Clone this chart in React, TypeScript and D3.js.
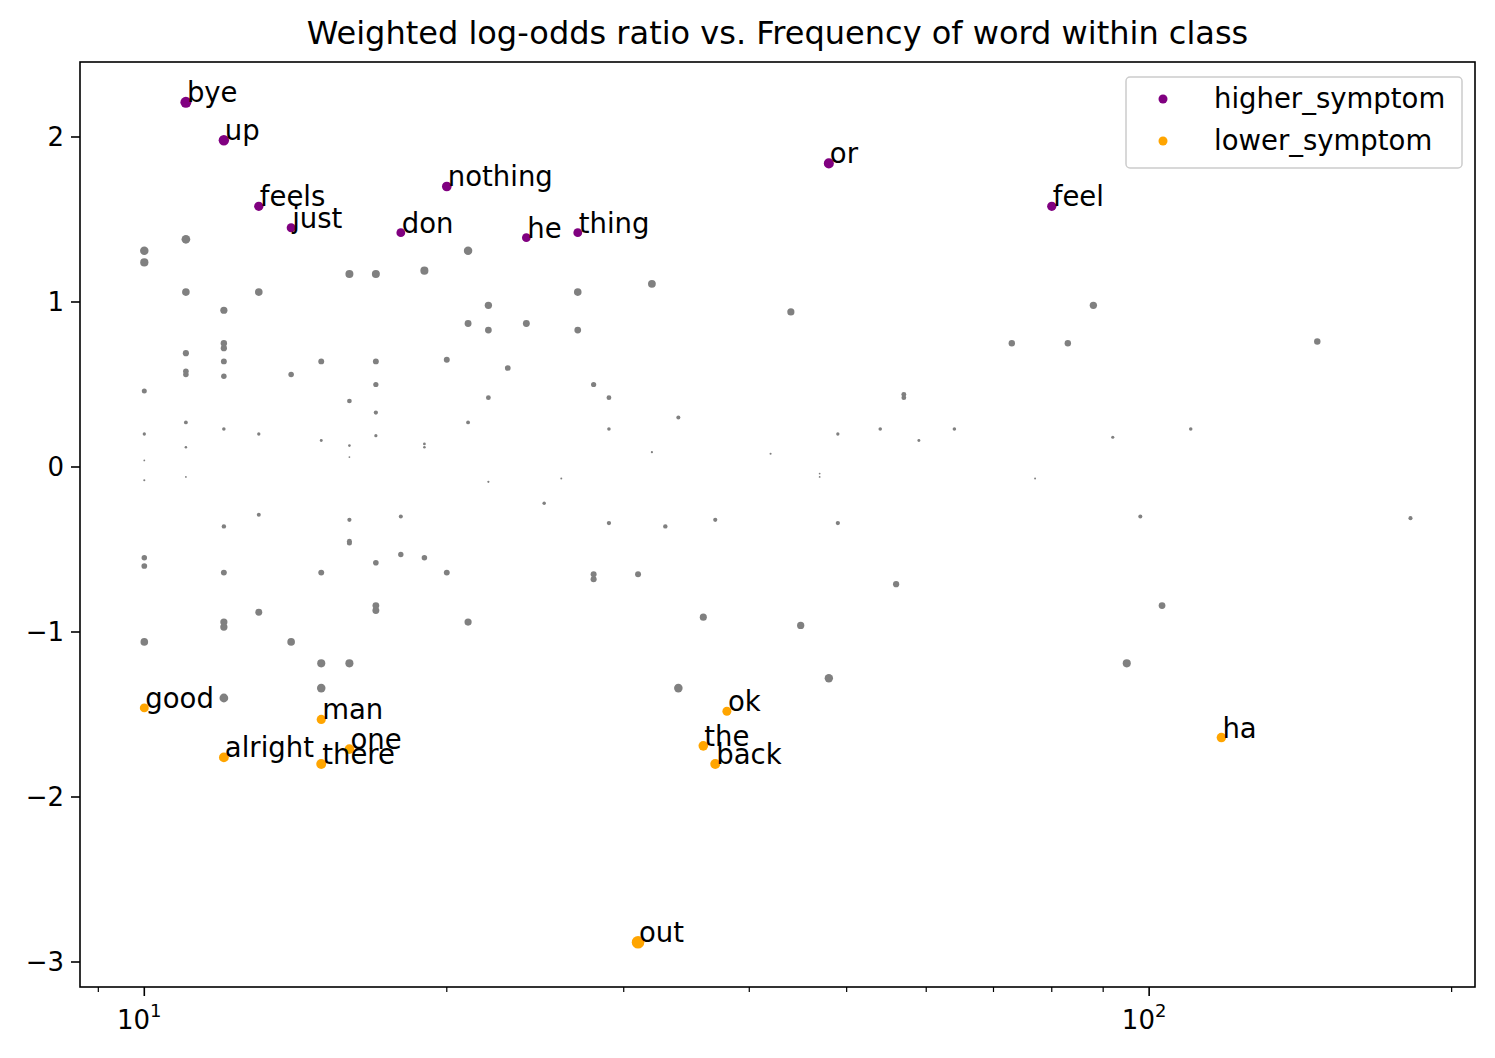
import * as d3 from 'd3'

// word frequency (x), weighted log-odds (y)
const higherWords = ['bye', 'up', 'feels', 'just', 'don', 'nothing', 'he', 'thing', 'or', 'feel']
const higherFreq = [11, 12, 13, 14, 18, 20, 24, 27, 48, 80]
const higherOdds = [2.21, 1.98, 1.58, 1.45, 1.42, 1.70, 1.39, 1.42, 1.84, 1.58]

const lowerWords = ['good', 'alright', 'man', 'one', 'there', 'out', 'the', 'ok', 'back', 'ha']
const lowerFreq = [10, 12, 15, 16, 15, 31, 36, 38, 37, 118]
const lowerOdds = [-1.46, -1.76, -1.53, -1.71, -1.80, -2.88, -1.69, -1.48, -1.80, -1.64]

const otherFreq = [
  10, 10, 10, 10, 10, 10, 10, 10, 10,
  11, 11, 11, 11, 11, 11, 11, 11,
  12, 12, 12, 12, 12, 12, 12, 12, 12, 12, 12,
  13, 13, 13, 13,
  14, 14,
  15, 15, 15, 15, 15,
  16, 16, 16, 16, 16, 16, 16, 16,
  17, 17, 17, 17, 17, 17, 17, 17,
  18, 18,
  19, 19, 19, 19,
  20, 20,
  21, 21, 21, 21,
  22, 22, 22, 22,
  23, 24, 25, 26,
  27, 27,
  28, 28, 28,
  29, 29, 29,
  31, 32, 32, 33, 34, 34, 36, 37, 42, 44, 45, 47, 47, 48, 49, 49,
  54, 56, 57, 57, 59, 64, 73, 77, 83, 88, 92, 95, 98, 103, 110, 147, 182,
]
const otherOdds = [
  1.31, 1.24, 0.46, 0.20, 0.04, -0.08, -0.55, -0.60, -1.06,
  1.38, 1.06, 0.69, 0.58, 0.56, 0.27, 0.12, -0.06,
  0.95, 0.75, 0.72, 0.64, 0.55, 0.23, -0.36, -0.64, -0.94, -0.97, -1.40,
  1.06, 0.20, -0.29, -0.88,
  0.56, -1.06,
  0.64, 0.16, -0.64, -1.19, -1.34,
  1.17, 0.40, 0.13, 0.06, -0.32, -0.45, -0.46, -1.19,
  1.17, 0.64, 0.50, 0.33, 0.19, -0.58, -0.84, -0.87,
  -0.30, -0.53,
  1.19, 0.14, 0.12, -0.55,
  0.65, -0.64,
  1.31, 0.87, 0.27, -0.94,
  0.98, 0.83, 0.42, -0.09,
  0.60, 0.87, -0.22, -0.07,
  1.06, 0.83,
  0.50, -0.65, -0.68,
  0.42, 0.23, -0.34,
  -0.65, 1.11, 0.09, -0.36, 0.30, -1.34, -0.91, -0.32, 0.08, 0.94, -0.96, -0.04, -0.06, -1.28, 0.20, -0.34,
  0.23, -0.71, 0.44, 0.42, 0.16, 0.23, 0.75, -0.07, 0.75, 0.98, 0.18, -1.19, -0.30, -0.84, 0.23, 0.76, -0.31,
]

const yTicks = [-3, -2, -1, 0, 1, 2]
const xMajor = [10, 100]
const xMinor = [9, 20, 30, 40, 50, 60, 70, 80, 90, 200]

const W = 1495
const H = 1058
const L = 80, R = 1475, T = 62, B = 987
const font = 'DejaVu Sans, sans-serif'

export default function App() {
  const x = d3.scaleLog().domain([8.63, 211]).range([L, R])
  const y = d3.scaleLinear().domain([-3.1515, 2.4545]).range([B, T])
  const rad = (v: number) => Math.max(0.9, 3.7 * Math.sqrt(Math.abs(v)))

  return (
    <svg width={W} height={H} style={{ position: 'absolute', left: 0, top: 0, background: '#fff' }} fontFamily={font}>
      <text x={(L + R) / 2} y={44} textAnchor="middle" fontSize={32}>
        Weighted log-odds ratio vs. Frequency of word within class
      </text>
      {otherFreq.map((f, i) => (
        <circle key={'o' + i} cx={x(f)} cy={y(otherOdds[i])} r={rad(otherOdds[i])} fill="grey" />
      ))}
      {higherFreq.map((f, i) => (
        <g key={'h' + i}>
          <circle cx={x(f)} cy={y(higherOdds[i])} r={rad(higherOdds[i])} fill="purple" />
          <text x={x(f) + 1} y={y(higherOdds[i])} fontSize={27.5}>{higherWords[i]}</text>
        </g>
      ))}
      {lowerFreq.map((f, i) => (
        <g key={'l' + i}>
          <circle cx={x(f)} cy={y(lowerOdds[i])} r={rad(lowerOdds[i])} fill="orange" />
          <text x={x(f) + 1} y={y(lowerOdds[i])} fontSize={27.5}>{lowerWords[i]}</text>
        </g>
      ))}
      <rect x={L} y={T} width={R - L} height={B - T} fill="none" stroke="#000" strokeWidth={1.6} />
      {yTicks.map((t) => (
        <g key={'y' + t}>
          <line x1={L} x2={L - 9} y1={y(t)} y2={y(t)} stroke="#000" strokeWidth={1.6} />
          <text x={L - 16} y={y(t) + 9} textAnchor="end" fontSize={26}>
            {t < 0 ? '\u2212' + -t : t}
          </text>
        </g>
      ))}
      {xMajor.map((t) => (
        <g key={'x' + t}>
          <line x1={x(t)} x2={x(t)} y1={B} y2={B + 9} stroke="#000" strokeWidth={1.6} />
          <text x={x(t) - 5} y={B + 42} textAnchor="middle" fontSize={26}>
            10<tspan dy={-12} fontSize={18}>{Math.log10(t)}</tspan>
          </text>
        </g>
      ))}
      {xMinor.map((t) => (
        <line key={'m' + t} x1={x(t)} x2={x(t)} y1={B} y2={B + 5} stroke="#000" strokeWidth={1.2} />
      ))}
      <g>
        <rect x={1126} y={77} width={336} height={91} rx={4} fill="#fff" fillOpacity={0.8} stroke="#ccc" strokeWidth={1.5} />
        <circle cx={1163} cy={99} r={4.5} fill="purple" />
        <text x={1214} y={108} fontSize={27.5}>higher_symptom</text>
        <circle cx={1163} cy={141} r={4.5} fill="orange" />
        <text x={1214} y={150} fontSize={27.5}>lower_symptom</text>
      </g>
    </svg>
  )
}
